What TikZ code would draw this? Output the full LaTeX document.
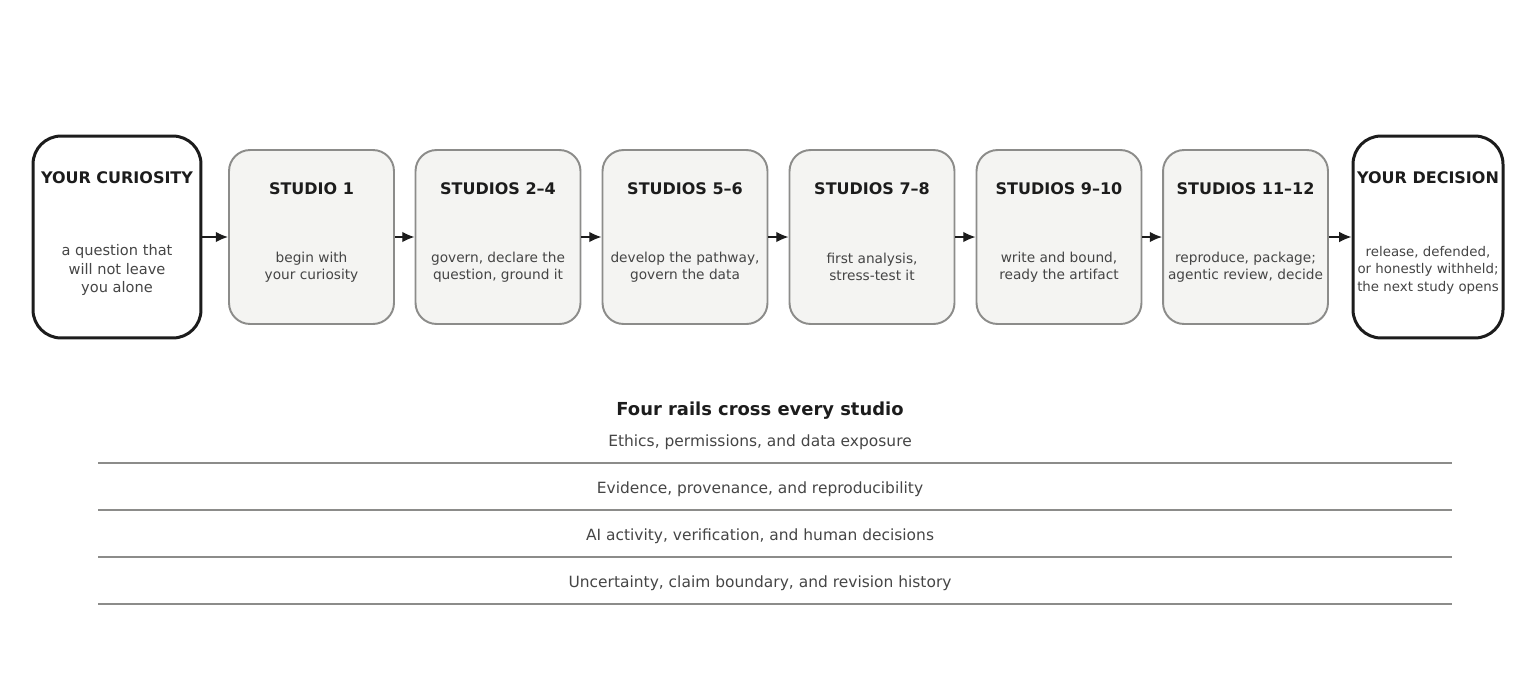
\documentclass[tikz,border=0pt]{standalone}
\usepackage{fontspec}
\setmainfont{DejaVu Sans}
\usetikzlibrary{arrows.meta, positioning}
\definecolor{boxgray}{HTML}{8C8C8A}
\definecolor{boxfill}{HTML}{F4F4F2}
\definecolor{ink}{HTML}{1C1C1C}
\definecolor{bodytext}{HTML}{454545}

\begin{document}
\begin{tikzpicture}[
    x=0.02cm, y=-0.02cm,
    studio/.style={rectangle, rounded corners=12pt, draw=boxgray, line width=1.1pt, fill=boxfill, minimum width=3.3cm, minimum height=3.48cm},
    endbox/.style={rectangle, rounded corners=16pt, draw=ink, line width=1.7pt, fill=white, minimum height=4.04cm},
    title/.style={font=\bfseries\fontsize{9.1}{10}\selectfont, text=ink},
    body/.style={font=\fontsize{7.8}{10}\selectfont, text=bodytext, align=center},
    rail/.style={draw=boxgray, line width=1.1pt},
    arrow/.style={-{Latex[length=7pt,width=6pt]}, thick, draw=ink}
]
\useasboundingbox (0,0) rectangle (1530,690);

% Start and end boxes
\node (start) [endbox, minimum width=3.36cm] at (117,237) {};
\node (finish) [endbox, minimum width=3.0cm] at (1428,237) {};
\node [title] at (117,178) {YOUR CURIOSITY};
\node [body, font=\fontsize{8.3}{10.5}\selectfont] at (117,270) {a question that\\will not leave\\you alone};
\node [title] at (1428,178) {YOUR DECISION};
\node [body, font=\fontsize{7.6}{10}\selectfont] at (1428,270) {release, defended,\\or honestly withheld;\\the next study opens};

% Studios
\foreach \n/\x/\t/\b in {
    s1/311.5/STUDIO 1/{begin with\\your curiosity},
    s2/498/STUDIOS 2–4/{govern, declare the\\question, ground it},
    s3/685/STUDIOS 5–6/{develop the pathway,\\govern the data},
    s4/872/STUDIOS 7–8/{first analysis,\\stress-test it},
    s5/1059/STUDIOS 9–10/{write and bound,\\ready the artifact},
    s6/1245.5/STUDIOS 11–12/{reproduce, package;\\agentic review, decide}} {
  \node (\n) [studio] at (\x,237) {};
  \node [title] at (\x,189) {\t};
  \node [body] at (\x,267) {\b};
}

% Arrows
\draw[arrow] (start) -- (s1);
\draw[arrow] (s1) -- (s2);
\draw[arrow] (s2) -- (s3);
\draw[arrow] (s3) -- (s4);
\draw[arrow] (s4) -- (s5);
\draw[arrow] (s5) -- (s6);
\draw[arrow] (s6) -- (finish);

% Rails
\node (railhead) [font=\bfseries\fontsize{10.2}{12}\selectfont, text=ink] at (760,411) {Four rails cross every studio};
\foreach \i/\y/\t in {
    1/463/{Ethics, permissions, and data exposure},
    2/510/{Evidence, provenance, and reproducibility},
    3/557/{AI activity, verification, and human decisions},
    4/604/{Uncertainty, claim boundary, and revision history}} {
  \coordinate (rl\i) at (98,\y);
  \coordinate (rr\i) at (1452,\y);
  \draw[rail] (rl\i) -- (rr\i);
  \node [font=\fontsize{8.8}{10}\selectfont, text=bodytext] at (760,\y-21) {\t};
}
\end{tikzpicture}
\end{document}
